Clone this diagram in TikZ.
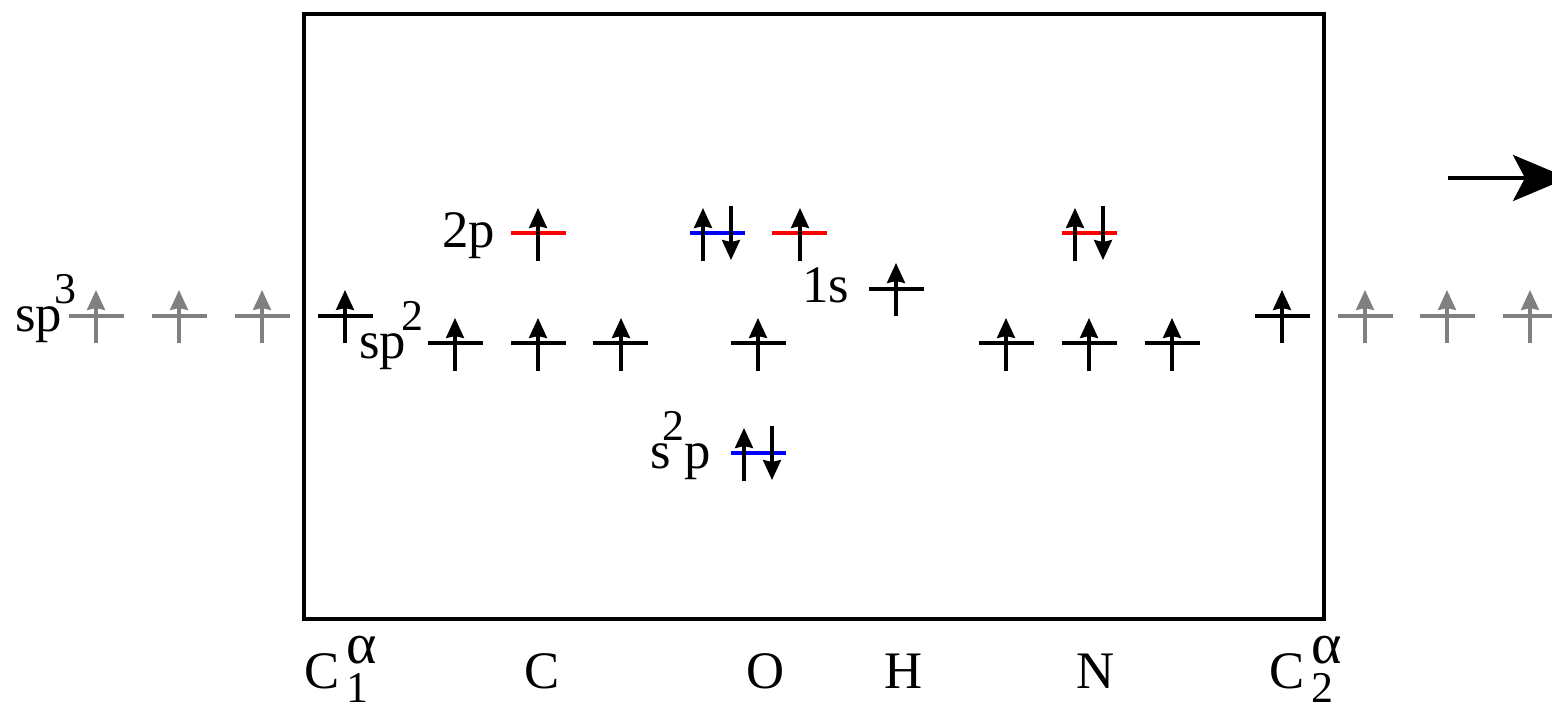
\documentclass[tikz,border=0pt]{standalone}
\usepackage{fontspec}
\setmainfont{Liberation Serif}
\usetikzlibrary{arrows.meta}
\newcommand{\supfont}{\fontsize{25}{25}\selectfont}
\newcommand{\greekfont}{\fontsize{33}{33}\selectfont}
\newcommand{\hisup}[1]{\raisebox{0.56cm}{\supfont #1}}
\newcommand{\hilo}[2]{\kern0.14cm\rlap{\raisebox{0.5cm}{\greekfont #1}}\raisebox{-0.28cm}{\supfont #2}}
\tikzset{
  orbital/.style={line width=2.2pt},
  greyorbital/.style={orbital,gray},
  redorbital/.style={orbital,red},
  blueorbital/.style={orbital,blue},
  spin/.style={line width=1.8pt,-{Stealth[length=0.4cm,width=0.36cm,inset=0.04cm]}},
  greyspin/.style={spin,gray},
  lab/.style={anchor=base west,inner sep=0pt,font=\fontsize{30}{30}\selectfont}
}
\begin{document}
\begin{tikzpicture}[x=0.02cm,y=-0.02cm]
\useasboundingbox (0,0) rectangle (1552,703);
\clip (0,0) rectangle (1552,703);
\draw[line width=2.3pt] (304,14) rectangle (1324,619);

\draw[greyorbital] (69,316) -- (124,316);
\draw[greyorbital] (152,316) -- (207,316);
\draw[greyorbital] (235,316) -- (290,316);
\draw[greyorbital] (1338,316) -- (1393,316);
\draw[greyorbital] (1420,316) -- (1475,316);
\draw[greyorbital] (1503,316) -- (1558,316);
\draw[greyspin] (96,343) -- (96,290);
\draw[greyspin] (179,343) -- (179,290);
\draw[greyspin] (262,343) -- (262,290);
\draw[greyspin] (1365,343) -- (1365,290);
\draw[greyspin] (1447,343) -- (1447,290);
\draw[greyspin] (1530,343) -- (1530,290);

\draw[orbital] (318,316) -- (373,316);
\draw[orbital] (1255,316) -- (1310,316);
\draw[orbital] (428,343) -- (483,343);
\draw[orbital] (511,343) -- (566,343);
\draw[orbital] (593,343) -- (648,343);
\draw[orbital] (731,343) -- (786,343);
\draw[orbital] (979,343) -- (1034,343);
\draw[orbital] (1062,343) -- (1117,343);
\draw[orbital] (1145,343) -- (1200,343);
\draw[orbital] (869,289) -- (924,289);
\draw[redorbital] (511,233) -- (566,233);
\draw[redorbital] (772,233) -- (827,233);
\draw[redorbital] (1062,233) -- (1117,233);
\draw[blueorbital] (690,233) -- (745,233);
\draw[blueorbital] (731,453) -- (786,453);

\draw[spin] (345,343) -- (345,290);
\draw[spin] (1282,343) -- (1282,290);
\draw[spin] (455,371) -- (455,318);
\draw[spin] (538,371) -- (538,318);
\draw[spin] (621,371) -- (621,318);
\draw[spin] (758,371) -- (758,318);
\draw[spin] (1006,371) -- (1006,318);
\draw[spin] (1089,371) -- (1089,318);
\draw[spin] (1172,371) -- (1172,318);
\draw[spin] (896,316) -- (896,263);
\draw[spin] (538,261) -- (538,208);
\draw[spin] (800,261) -- (800,208);
\draw[spin] (703,261) -- (703,208);
\draw[spin] (731,206) -- (731,260);
\draw[spin] (1075,261) -- (1075,208);
\draw[spin] (1103,206) -- (1103,260);
\draw[spin] (744,481) -- (744,428);
\draw[spin] (772,426) -- (772,480);

\draw[line width=2.3pt,-{Stealth[length=1.1cm,width=0.92cm,inset=0.24cm]}] (1448,178) -- (1568,178);

\node[lab] (sp3) at (15,331) {sp\kern-0.15cm\hisup{3}};
\node[lab] (sp2) at (359,358) {sp\kern-0.1cm\hisup{2}};
\node[lab] (twop) at (442,247) {2p};
\node[lab] (ones) at (802,302) {1s};
\node[lab] (s2p) at (650,468) {s\kern-0.16cm\hisup{2}p};

\node[lab] (ca1) at (304,688) {C\hilo{α}{1}};
\node[lab] (catom) at (524,688) {C};
\node[lab] (oatom) at (746,688) {O};
\node[lab] (hatom) at (884,688) {H};
\node[lab] (natom) at (1076,688) {N};
\node[lab] (ca2) at (1269,688) {C\hilo{α}{2}};
\end{tikzpicture}
\end{document}
